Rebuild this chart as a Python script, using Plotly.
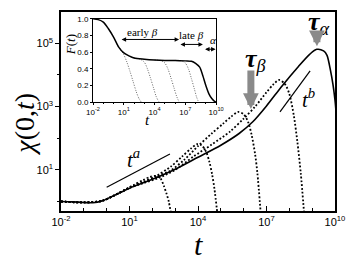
import plotly.graph_objects as go

# ---------------- data (log10 values) ----------------
# main panel: chi(0,t), solid curve
chi_logt = [-2, -1.5, -1, -0.6, -0.2, 0.3, 1, 2, 3, 4, 5, 5.8, 6.4, 7.0, 7.7, 8.4, 8.9, 9.2, 9.5, 9.65, 9.8, 9.91, 10.0, 10.05]
chi_logy = [0.0, -0.01, -0.03, -0.04, 0.02, 0.18, 0.42, 0.70, 1.02, 1.40, 1.78, 2.15, 2.52, 3.02, 3.67, 4.27, 4.66, 4.81, 4.76, 4.62, 4.15, 3.7, 3.2, 2.8]

# main panel: dotted curves
d1_logt = [-2, -1, -0.2, 0.3, 0.8, 1.2, 1.6, 1.9, 2.15, 2.35, 2.5, 2.62, 2.72, 2.82]
d1_logy = [0.0, -0.03, 0.02, 0.18, 0.37, 0.53, 0.68, 0.78, 0.81, 0.74, 0.5, 0.25, 0.0, -0.4]
d2_logt = [-2, -1, -0.2, 0.3, 1.0, 1.6, 2.2, 2.8, 3.3, 3.7, 3.95, 4.15, 4.35, 4.5, 4.62, 4.72, 4.85]
d2_logy = [0.0, -0.03, 0.02, 0.18, 0.44, 0.62, 0.82, 1.1, 1.42, 1.68, 1.81, 1.78, 1.58, 1.25, 0.85, 0.4, -0.4]
d3_logt = [-2, -1, -0.2, 0.3, 1.0, 1.6, 2.2, 2.8, 3.4, 4.0, 4.6, 5.1, 5.45, 5.76, 6.0, 6.2, 6.35, 6.5, 6.6, 6.75]
d3_logy = [0.0, -0.03, 0.02, 0.18, 0.43, 0.6, 0.79, 0.98, 1.32, 1.75, 2.15, 2.46, 2.68, 2.83, 2.76, 2.5, 2.1, 1.5, 0.9, -0.4]
d4_logt = [-2, -1, -0.2, 0.3, 1.0, 1.6, 2.3, 3.0, 3.8, 4.6, 5.4, 6.0, 6.5, 7.0, 7.3, 7.55, 7.8, 8.0, 8.2, 8.35, 8.5, 8.65]
d4_logy = [0.0, -0.03, 0.02, 0.18, 0.43, 0.58, 0.75, 1.0, 1.42, 1.8, 2.21, 2.62, 3.0, 3.45, 3.7, 3.84, 3.72, 3.4, 2.7, 1.9, 0.9, -0.4]

# guide lines t^a and t^b
ta_logt = [0.0, 2.77]
ta_logy = [0.45, 1.50]
tb_logt = [7.59, 8.91]
tb_logy = [2.83, 4.13]

# inset: F(t)
f_logt = [-2, -1.5, -1, -0.5, 0, 0.5, 1, 1.5, 2, 3, 4, 5, 6, 7, 7.6, 8.0, 8.4, 8.7, 9.0, 9.3, 9.6, 9.85, 10]
f_val = [1.0, 0.99, 0.96, 0.88, 0.78, 0.66, 0.59, 0.555, 0.53, 0.515, 0.505, 0.50, 0.50, 0.495, 0.49, 0.465, 0.42, 0.32, 0.2, 0.1, 0.04, 0.01, 0.0]
i1_logt = [0.3, 0.7, 1.0, 1.3, 1.6, 1.9, 2.2, 2.45, 2.7]
i1_val = [0.70, 0.63, 0.57, 0.48, 0.37, 0.25, 0.13, 0.05, 0.0]
i2_logt = [2.0, 2.6, 3.0, 3.3, 3.6, 3.9, 4.15, 4.4, 4.5]
i2_val = [0.53, 0.515, 0.48, 0.40, 0.29, 0.17, 0.07, 0.01, 0.0]
i3_logt = [4.0, 4.6, 5.0, 5.3, 5.6, 5.9, 6.15, 6.4]
i3_val = [0.505, 0.50, 0.47, 0.40, 0.29, 0.17, 0.07, 0.0]
i4_logt = [6.0, 6.6, 7.0, 7.3, 7.6, 7.9, 8.1, 8.3]
i4_val = [0.50, 0.497, 0.47, 0.40, 0.28, 0.15, 0.06, 0.0]

x_major = [-2, 1, 4, 7, 10]
x_minor = [-1, 0, 2, 3, 5, 6, 8, 9]
y_major = [1, 3, 5]
y_minor = [0, 2, 4, 6]
f_ticks = [0.0, 0.2, 0.4, 0.6, 0.8, 1.0]


def p10(v):
    return [10 ** a for a in v]


def sup(e):
    return "10<sup>%d</sup>" % e


fig = go.Figure()

# main curves
for lt, ly in [(d1_logt, d1_logy), (d2_logt, d2_logy), (d3_logt, d3_logy), (d4_logt, d4_logy)]:
    fig.add_trace(go.Scatter(x=p10(lt), y=p10(ly), mode="lines",
                             line=dict(color="black", width=1.8, dash="1.8px,2px", shape="spline", smoothing=0.8),
                             xaxis="x", yaxis="y", showlegend=False, hoverinfo="skip"))
fig.add_trace(go.Scatter(x=p10(chi_logt), y=p10(chi_logy), mode="lines",
                         line=dict(color="black", width=1.6, shape="spline", smoothing=0.8),
                         xaxis="x", yaxis="y", showlegend=False, hoverinfo="skip"))
for lt, ly in [(ta_logt, ta_logy), (tb_logt, tb_logy)]:
    fig.add_trace(go.Scatter(x=p10(lt), y=p10(ly), mode="lines",
                             line=dict(color="black", width=1.2),
                             xaxis="x", yaxis="y", showlegend=False, hoverinfo="skip"))

# inset curves
for lt, fv in [(i1_logt, i1_val), (i2_logt, i2_val), (i3_logt, i3_val), (i4_logt, i4_val)]:
    fig.add_trace(go.Scatter(x=p10(lt), y=fv, mode="lines",
                             line=dict(color="#666666", width=1.0, dash="1px,1.5px", shape="spline", smoothing=0.8),
                             xaxis="x2", yaxis="y2", showlegend=False, hoverinfo="skip"))
fig.add_trace(go.Scatter(x=p10(f_logt), y=f_val, mode="lines",
                         line=dict(color="black", width=1.5, shape="spline", smoothing=0.8),
                         xaxis="x2", yaxis="y2", showlegend=False, hoverinfo="skip"))

tickfont = dict(family="Liberation Sans, Arial, sans-serif", size=11, color="black")
smallfont = dict(family="Liberation Sans, Arial, sans-serif", size=8, color="black")

fig.update_layout(
    width=352, height=252,
    margin=dict(l=53, r=25, t=0, b=49, pad=0),
    paper_bgcolor="white", plot_bgcolor="white",
    showlegend=False,
    xaxis=dict(type="log", range=[-2, 10], domain=[0, 1],
               tickmode="array", tickvals=p10(x_major), ticktext=[sup(e) for e in x_major],
               ticks="inside", ticklen=5, tickwidth=1, tickcolor="black",
               minor=dict(tickmode="array", tickvals=p10(x_minor), ticks="inside", ticklen=3, tickcolor="black", showgrid=False),
               showline=True, linecolor="black", linewidth=1.5, mirror=True,
               showgrid=False, zeroline=False, tickfont=tickfont),
    yaxis=dict(type="log", range=[-0.30, 5.99], domain=[0, 1],
               tickmode="array", tickvals=p10(y_major), ticktext=[sup(e) for e in y_major],
               ticks="outside", ticklen=4, tickwidth=1, tickcolor="black",
               minor=dict(tickmode="array", tickvals=p10(y_minor), ticks="outside", ticklen=2, tickcolor="black", showgrid=False),
               showline=True, linecolor="black", linewidth=1.5, mirror=True,
               showgrid=False, zeroline=False, tickfont=tickfont),
    xaxis2=dict(type="log", range=[-2, 10], domain=[0.117, 0.566], anchor="y2",
                tickmode="array", tickvals=p10(x_major), ticktext=[sup(e) for e in x_major],
                ticks="outside", ticklen=2, tickwidth=1, tickcolor="black",
                minor=dict(tickmode="array", tickvals=p10(x_minor), ticks="outside", ticklen=1, tickcolor="black", showgrid=False),
                showline=True, linecolor="black", linewidth=1.2, mirror=True,
                showgrid=False, zeroline=False, tickfont=smallfont),
    yaxis2=dict(range=[0, 1.0], domain=[0.547, 0.966], anchor="x2",
                tickmode="array", tickvals=f_ticks, ticktext=["%.1f" % v for v in f_ticks],
                ticks="outside", ticklen=2, tickwidth=1, tickcolor="black",
                showline=True, linecolor="black", linewidth=1.2, mirror=True,
                showgrid=False, zeroline=False, tickfont=smallfont),
)

serif = "Liberation Serif, Times New Roman, serif"


def label(x, y, text, size, angle=0):
    return dict(x=x, y=y, xref="paper", yref="paper", text=text, showarrow=False,
                xanchor="center", yanchor="middle", textangle=angle,
                font=dict(family=serif, size=size, color="black"))


ann = []
# axis titles
ann.append(label(0.5, -0.167, "<i>t</i>", 30))
ann.append(label(-0.132, 0.438, "<i>χ</i>(0,<i>t</i>)", 28, -90))
# inset titles
ann.append(label(0.033, 0.833, "<i>F</i>(<i>t</i>)", 13, -90))
ann.append(label(0.314, 0.458, "<i>t</i>", 15))
# inset regime labels
ann.append(label(0.296, 0.901, "early <i>β</i>", 11))
ann.append(label(0.478, 0.882, "late <i>β</i>", 11))
ann.append(label(0.555, 0.857, "<i>α</i>", 11))
# double arrows
for hx, hy, length in [(0.431, 0.862, 59), (0.518, 0.837, 24), (0.564, 0.813, 12)]:
    ann.append(dict(x=hx, y=hy, xref="paper", yref="paper", ax=-length, ay=0, axref="pixel", ayref="pixel",
                    text="", showarrow=True, arrowhead=2, arrowsize=0.9, arrowwidth=1, arrowcolor="black",
                    arrowside="end+start"))
# main labels
ann.append(label(0.266, 0.266, "<i>t</i><sup><i>a</i></sup>", 21))
ann.append(label(0.905, 0.567, "<i>t</i><sup><i>b</i></sup>", 21))
ann.append(label(0.712, 0.759, "<b><i>τ</i></b><sub><i>β</i></sub>", 26))
ann.append(label(0.94, 0.946, "<b><i>τ</i></b><sub><i>α</i></sub>", 26))
# gray arrows
ann.append(dict(x=0.693, y=0.512, xref="paper", yref="paper", ax=0, ay=-40, axref="pixel", ayref="pixel",
                text="", showarrow=True, arrowhead=2, arrowsize=0.45, arrowwidth=7, arrowcolor="#8a8a8a"))
ann.append(dict(x=0.934, y=0.828, xref="paper", yref="paper", ax=0, ay=-16, axref="pixel", ayref="pixel",
                text="", showarrow=True, arrowhead=2, arrowsize=0.45, arrowwidth=7, arrowcolor="#8a8a8a"))

fig.update_layout(annotations=ann)
fig.write_html("out.html")
